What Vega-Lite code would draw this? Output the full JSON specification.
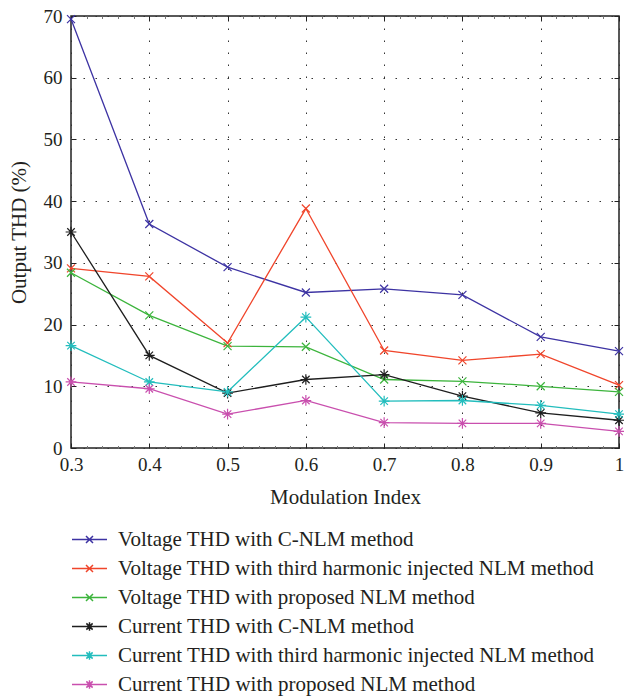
{
  "$schema": "https://vega.github.io/schema/vega-lite/v6.json",
  "autosize": {"type": "none"},
  "width": 548,
  "height": 432,
  "padding": {"left": 71, "top": 16, "right": 5, "bottom": 251},
  "background": "white",
  "config": {
    "font": "Liberation Serif",
    "view": {"stroke": "#222", "strokeWidth": 1.5},
    "axis": {"labelColor": "#231f20", "titleColor": "#231f20", "labelFontSize": 19, "titleFontSize": 21, "titleFontWeight": "normal", "tickColor": "#222", "domain": false},
    "legend": {"orient": "none", "legendX": 8, "legendY": 513, "title": null, "labelFontSize": 21, "labelColor": "#231f20", "labelOffset": 18, "rowPadding": 7, "padding": 0, "symbolSize": 306, "symbolStrokeWidth": 1.5, "symbolFillColor": "transparent", "symbolOpacity": 1, "labelLimit": 600}
  },
  "data": {"values": [
    {"m": 0.3, "series": "Voltage THD with C-NLM method", "kind": "V", "thd": 69.5},
    {"m": 0.4, "series": "Voltage THD with C-NLM method", "kind": "V", "thd": 36.3},
    {"m": 0.5, "series": "Voltage THD with C-NLM method", "kind": "V", "thd": 29.3},
    {"m": 0.6, "series": "Voltage THD with C-NLM method", "kind": "V", "thd": 25.2},
    {"m": 0.7, "series": "Voltage THD with C-NLM method", "kind": "V", "thd": 25.8},
    {"m": 0.8, "series": "Voltage THD with C-NLM method", "kind": "V", "thd": 24.8},
    {"m": 0.9, "series": "Voltage THD with C-NLM method", "kind": "V", "thd": 18.0},
    {"m": 1.0, "series": "Voltage THD with C-NLM method", "kind": "V", "thd": 15.7},
    {"m": 0.3, "series": "Voltage THD with third harmonic injected NLM method", "kind": "V", "thd": 29.1},
    {"m": 0.4, "series": "Voltage THD with third harmonic injected NLM method", "kind": "V", "thd": 27.8},
    {"m": 0.5, "series": "Voltage THD with third harmonic injected NLM method", "kind": "V", "thd": 17.0},
    {"m": 0.6, "series": "Voltage THD with third harmonic injected NLM method", "kind": "V", "thd": 38.8},
    {"m": 0.7, "series": "Voltage THD with third harmonic injected NLM method", "kind": "V", "thd": 15.8},
    {"m": 0.8, "series": "Voltage THD with third harmonic injected NLM method", "kind": "V", "thd": 14.2},
    {"m": 0.9, "series": "Voltage THD with third harmonic injected NLM method", "kind": "V", "thd": 15.2},
    {"m": 1.0, "series": "Voltage THD with third harmonic injected NLM method", "kind": "V", "thd": 10.2},
    {"m": 0.3, "series": "Voltage THD with proposed NLM method", "kind": "V", "thd": 28.4},
    {"m": 0.4, "series": "Voltage THD with proposed NLM method", "kind": "V", "thd": 21.5},
    {"m": 0.5, "series": "Voltage THD with proposed NLM method", "kind": "V", "thd": 16.5},
    {"m": 0.6, "series": "Voltage THD with proposed NLM method", "kind": "V", "thd": 16.4},
    {"m": 0.7, "series": "Voltage THD with proposed NLM method", "kind": "V", "thd": 11.1},
    {"m": 0.8, "series": "Voltage THD with proposed NLM method", "kind": "V", "thd": 10.8},
    {"m": 0.9, "series": "Voltage THD with proposed NLM method", "kind": "V", "thd": 10.0},
    {"m": 1.0, "series": "Voltage THD with proposed NLM method", "kind": "V", "thd": 9.1},
    {"m": 0.3, "series": "Current THD with C-NLM method", "kind": "C", "thd": 35.0},
    {"m": 0.4, "series": "Current THD with C-NLM method", "kind": "C", "thd": 15.0},
    {"m": 0.5, "series": "Current THD with C-NLM method", "kind": "C", "thd": 8.9},
    {"m": 0.6, "series": "Current THD with C-NLM method", "kind": "C", "thd": 11.1},
    {"m": 0.7, "series": "Current THD with C-NLM method", "kind": "C", "thd": 11.9},
    {"m": 0.8, "series": "Current THD with C-NLM method", "kind": "C", "thd": 8.4},
    {"m": 0.9, "series": "Current THD with C-NLM method", "kind": "C", "thd": 5.7},
    {"m": 1.0, "series": "Current THD with C-NLM method", "kind": "C", "thd": 4.5},
    {"m": 0.3, "series": "Current THD with third harmonic injected NLM method", "kind": "C", "thd": 16.6},
    {"m": 0.4, "series": "Current THD with third harmonic injected NLM method", "kind": "C", "thd": 10.7},
    {"m": 0.5, "series": "Current THD with third harmonic injected NLM method", "kind": "C", "thd": 9.1},
    {"m": 0.6, "series": "Current THD with third harmonic injected NLM method", "kind": "C", "thd": 21.2},
    {"m": 0.7, "series": "Current THD with third harmonic injected NLM method", "kind": "C", "thd": 7.6},
    {"m": 0.8, "series": "Current THD with third harmonic injected NLM method", "kind": "C", "thd": 7.7},
    {"m": 0.9, "series": "Current THD with third harmonic injected NLM method", "kind": "C", "thd": 6.9},
    {"m": 1.0, "series": "Current THD with third harmonic injected NLM method", "kind": "C", "thd": 5.5},
    {"m": 0.3, "series": "Current THD with proposed NLM method", "kind": "C", "thd": 10.7},
    {"m": 0.4, "series": "Current THD with proposed NLM method", "kind": "C", "thd": 9.6},
    {"m": 0.5, "series": "Current THD with proposed NLM method", "kind": "C", "thd": 5.5},
    {"m": 0.6, "series": "Current THD with proposed NLM method", "kind": "C", "thd": 7.7},
    {"m": 0.7, "series": "Current THD with proposed NLM method", "kind": "C", "thd": 4.1},
    {"m": 0.8, "series": "Current THD with proposed NLM method", "kind": "C", "thd": 4.0},
    {"m": 0.9, "series": "Current THD with proposed NLM method", "kind": "C", "thd": 4.0},
    {"m": 1.0, "series": "Current THD with proposed NLM method", "kind": "C", "thd": 2.7}
  ]},
  "resolve": {"axis": {"x": "independent", "y": "independent"}},
  "layer": [
    {
      "mark": {"type": "line", "strokeWidth": 1.3},
      "encoding": {
        "x": {"field": "m", "type": "quantitative", "scale": {"domain": [0.3, 1], "nice": false, "zero": false},
          "axis": {"orient": "bottom", "values": [0.3, 0.4, 0.5, 0.6, 0.7, 0.8, 0.9, 1.0], "format": ".1~f", "grid": true, "gridDash": [1.5, 10.5], "gridColor": "#333", "gridWidth": 1, "tickSize": -5, "labelPadding": 12, "labelFlush": false, "title": "Modulation Index", "titlePadding": 12}},
        "y": {"field": "thd", "type": "quantitative", "scale": {"domain": [0, 70], "nice": false},
          "axis": {"orient": "left", "values": [0, 10, 20, 30, 40, 50, 60, 70], "grid": true, "gridDash": [1.5, 10.5], "gridColor": "#333", "gridWidth": 1, "tickSize": -5, "labelPadding": 14, "labelFlush": false, "title": "Output THD (%)", "titlePadding": 14}},
        "color": {"field": "series", "type": "nominal",
          "scale": {"domain": ["Voltage THD with C-NLM method", "Voltage THD with third harmonic injected NLM method", "Voltage THD with proposed NLM method", "Current THD with C-NLM method", "Current THD with third harmonic injected NLM method", "Current THD with proposed NLM method"],
            "range": ["#3d33a3", "#f0452b", "#3cb43c", "#1e1e1e", "#22bdbd", "#c94fae"]}}
      }
    },
    {
      "transform": [{"filter": "datum.kind === 'V'"}],
      "mark": {"type": "point", "shape": "M-1,-1L1,1M-1,1L1,-1", "size": 64, "filled": false, "strokeWidth": 1.2, "opacity": 1},
      "encoding": {
        "x": {"field": "m", "type": "quantitative", "axis": {"orient": "top", "values": [0.3, 0.4, 0.5, 0.6, 0.7, 0.8, 0.9, 1.0], "labels": false, "grid": false, "tickSize": -5, "title": null}},
        "y": {"field": "thd", "type": "quantitative", "axis": {"orient": "right", "values": [0, 10, 20, 30, 40, 50, 60, 70], "labels": false, "grid": false, "tickSize": -5, "title": null}},
        "color": {"field": "series", "type": "nominal"}
      }
    },
    {
      "transform": [{"filter": "datum.kind === 'C'"}],
      "mark": {"type": "point", "shape": "M-1,0L1,0M0,-1L0,1M-0.7,-0.7L0.7,0.7M-0.7,0.7L0.7,-0.7", "size": 115, "filled": false, "strokeWidth": 1.2, "opacity": 1},
      "encoding": {
        "x": {"field": "m", "type": "quantitative", "axis": {"orient": "bottom", "values": [0.32, 0.34, 0.36, 0.38, 0.42, 0.44, 0.46, 0.48, 0.52, 0.54, 0.56, 0.58, 0.62, 0.64, 0.66, 0.68, 0.72, 0.74, 0.76, 0.78, 0.82, 0.84, 0.86, 0.88, 0.92, 0.94, 0.96, 0.98], "labels": false, "grid": false, "tickSize": -2.5, "tickColor": "#777", "title": null}},
        "y": {"field": "thd", "type": "quantitative", "axis": null},
        "color": {"field": "series", "type": "nominal"}
      }
    },
    {
      "mark": {"type": "point", "filled": false, "opacity": 0},
      "encoding": {
        "x": {"field": "m", "type": "quantitative", "axis": {"orient": "top", "values": [0.32, 0.34, 0.36, 0.38, 0.42, 0.44, 0.46, 0.48, 0.52, 0.54, 0.56, 0.58, 0.62, 0.64, 0.66, 0.68, 0.72, 0.74, 0.76, 0.78, 0.82, 0.84, 0.86, 0.88, 0.92, 0.94, 0.96, 0.98], "labels": false, "grid": false, "tickSize": -2.5, "tickColor": "#777", "title": null}},
        "y": {"field": "thd", "type": "quantitative", "axis": null},
        "color": {"field": "series", "type": "nominal"},
        "shape": {"field": "series", "type": "nominal",
          "scale": {"domain": ["Voltage THD with C-NLM method", "Voltage THD with third harmonic injected NLM method", "Voltage THD with proposed NLM method", "Current THD with C-NLM method", "Current THD with third harmonic injected NLM method", "Current THD with proposed NLM method"],
            "range": ["M-2,0L2,0M-0.4,-0.4L0.4,0.4M-0.4,0.4L0.4,-0.4", "M-2,0L2,0M-0.4,-0.4L0.4,0.4M-0.4,0.4L0.4,-0.4", "M-2,0L2,0M-0.4,-0.4L0.4,0.4M-0.4,0.4L0.4,-0.4", "M-2,0L2,0M0,-0.5L0,0.5M-0.36,-0.36L0.36,0.36M-0.36,0.36L0.36,-0.36", "M-2,0L2,0M0,-0.5L0,0.5M-0.36,-0.36L0.36,0.36M-0.36,0.36L0.36,-0.36", "M-2,0L2,0M0,-0.5L0,0.5M-0.36,-0.36L0.36,0.36M-0.36,0.36L0.36,-0.36"]}}
      }
    }
  ]
}
